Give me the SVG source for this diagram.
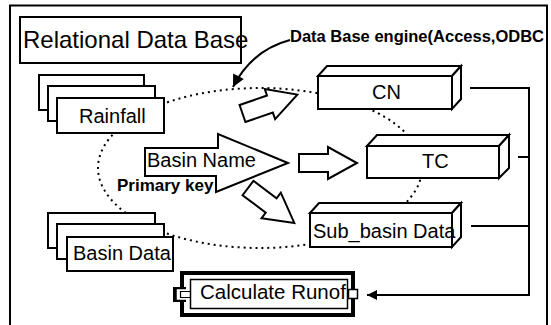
<svg xmlns="http://www.w3.org/2000/svg" width="551" height="325" viewBox="0 0 551 325">
  <style>
    .box { fill: #fff; stroke: #000; stroke-width: 2; stroke-linejoin: miter; }
    .blk { fill: #fff; stroke: #000; stroke-width: 2; stroke-linejoin: miter; }
    .lbl { font-family: "Liberation Sans", Arial, sans-serif; font-size: 20px; fill: #000; }
    .bold { font-family: "Liberation Sans", Arial, sans-serif; font-weight: bold; fill: #000; }
    .wire { fill: none; stroke: #000; stroke-width: 2; }
    .dots { fill: none; stroke: #000; stroke-width: 2; stroke-dasharray: 2 4; }
  </style>
  <defs>
    <marker id="head" viewBox="0 0 10 10" refX="10" refY="5" markerUnits="userSpaceOnUse" markerWidth="13" markerHeight="12" orient="auto">
      <path d="M0,0 L10,5 L0,10 Z" fill="#000"/>
    </marker>
    <marker id="headSmall" viewBox="0 0 10 10" refX="10" refY="5" markerUnits="userSpaceOnUse" markerWidth="10" markerHeight="10" orient="auto">
      <path d="M0,0 L10,5 L0,10 Z" fill="#000"/>
    </marker>
    <!-- hollow block arrow, tail centre at origin, pointing along +x -->
    <path id="blockArrow" d="M0,-9 L29,-9 L29,-16 L58,0 L29,16 L29,9 L0,9 Z"/>
  </defs>

  <rect width="551" height="325" fill="#fff"/>

  <!-- outer frame (open at the bottom) -->
  <path d="M10,325 V5.5 H547 V325" class="wire"/>

  <!-- dotted boundary of the database engine -->
  <ellipse id="engine-scope" cx="260" cy="168" rx="162" ry="80" class="dots"/>

  <g id="relational-db">
    <rect x="20" y="17" width="221" height="46" class="box"/>
    <text x="23" y="48" class="lbl" style="font-size:24px">Relational Data Base</text>
  </g>

  <g id="rainfall">
    <rect x="39" y="75" width="105" height="35" class="box"/>
    <rect x="48" y="86" width="107" height="35" class="box"/>
    <rect x="57" y="98" width="107" height="35" class="box"/>
    <text x="79" y="123" class="lbl">Rainfall</text>
  </g>

  <g id="basin-data">
    <rect x="48" y="213" width="107" height="35" class="box"/>
    <rect x="57" y="224" width="107" height="35" class="box"/>
    <rect x="67" y="237" width="106" height="34" class="box"/>
    <text x="73" y="260" class="lbl">Basin Data</text>
  </g>

  <g id="basin-name">
    <path d="M145,148 H218 V134 L288,163 L216,192 V176 H145 Z" class="box"/>
    <text x="147" y="167" class="lbl">Basin Name</text>
    <text x="117" y="191" class="bold" style="font-size:17px">Primary key</text>
  </g>

  <g id="cn">
    <path d="M318,76 L327,66 H461 L452,76 Z" class="box"/>
    <path d="M452,76 L461,66 V99 L452,109 Z" class="box"/>
    <rect x="318" y="76" width="134" height="33" class="box"/>
    <text x="372" y="99" class="lbl">CN</text>
  </g>

  <g id="tc">
    <path d="M367,146 L377,135 H509 L499,146 Z" class="box"/>
    <path d="M499,146 L509,135 V168 L499,178 Z" class="box"/>
    <rect x="367" y="146" width="132" height="32" class="box"/>
    <text x="422" y="168" class="lbl">TC</text>
  </g>

  <g id="sub-basin">
    <path d="M310,213 L319,203 H461 L452,213 Z" class="box"/>
    <path d="M452,213 L461,203 V237 L452,247 Z" class="box"/>
    <rect x="310" y="213" width="142" height="34" class="box"/>
    <text x="313" y="238" class="lbl">Sub_basin Data</text>
  </g>

  <g id="calculate-runoff">
    <rect x="180" y="271" width="175" height="46" fill="#000"/>
    <rect x="184" y="275" width="167" height="38" fill="#fff"/>
    <rect x="190.5" y="279.5" width="157" height="29" fill="#fff" stroke="#000" stroke-width="1.5"/>
    <rect x="173" y="287" width="13" height="15" fill="#000"/>
    <path d="M186,290 H177.5 V299 H186" fill="#fff" stroke="#fff" stroke-width="1.5"/>
    <path d="M190.5,291.5 H180.5 V297.5 H190.5" fill="none" stroke="#000" stroke-width="1.2"/>
    <text x="200" y="299" class="lbl" style="font-size:20.5px">Calculate Runof</text>
    <rect x="348.5" y="289.5" width="9" height="9" fill="#fff" stroke="#000" stroke-width="1.5"/>
  </g>

  <g id="connectors">
    <!-- flows out of Basin Name -->
    <use href="#blockArrow" class="blk" transform="translate(242.5,113.5) rotate(-19)"/>
    <use href="#blockArrow" class="blk" transform="translate(299,163)"/>
    <use href="#blockArrow" class="blk" transform="translate(248,188) rotate(37)"/>
    <!-- database engine callout -->
    <path d="M290,40 Q252,50 233,87" class="wire" marker-end="url(#head)"/>
    <text x="290" y="42" class="bold" style="font-size:16.5px">Data Base engine(Access,ODBC</text>
    <!-- results gathered into the runoff calculation -->
    <path d="M470,88 H529 V295 H367" class="wire" marker-end="url(#headSmall)"/>
    <path d="M518,157 H529" class="wire"/>
    <path d="M471,226 H529" class="wire"/>
  </g>
</svg>
